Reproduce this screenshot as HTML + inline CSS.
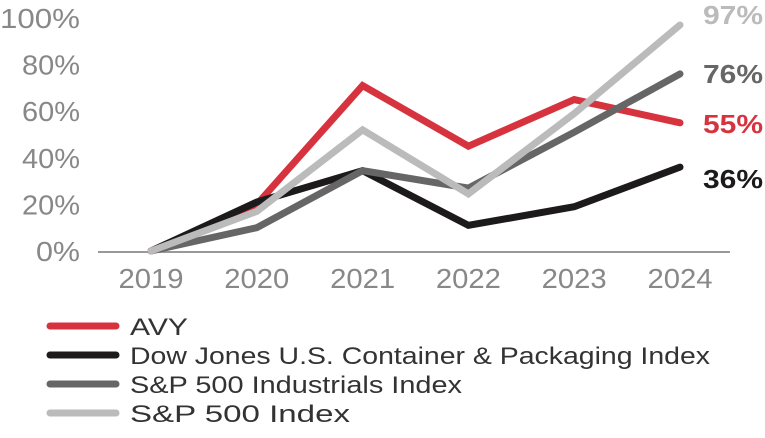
<!DOCTYPE html>
<html><head><meta charset="utf-8"><style>
body{margin:0;background:#fff;width:765px;height:433px;overflow:hidden;font-family:"Liberation Sans",sans-serif}
</style></head><body>
<svg id="chart" width="765" height="433" viewBox="0 0 765 433" xmlns="http://www.w3.org/2000/svg"></svg>
<script>
const years=["2019","2020","2021","2022","2023","2024"];
const yTicks=[0,20,40,60,80,100];
const avy=[0,20,71,45,65,55];
const dowJones=[0,21,34.5,11,19,36];
const industrials=[0,10,34.5,27,51,76];
const sp500=[0,17,52,24.5,59,97];
const seriesNames=["AVY","Dow Jones U.S. Container & Packaging Index","S&P 500 Industrials Index","S&P 500 Index"];
const legendWidths=[58,580,332,220];
const endLabels=["55%","36%","76%","97%"];

const NS="http://www.w3.org/2000/svg";
const svg=document.getElementById('chart');
const x=i=>151+i*105.8;
const y=v=>251-v*2.33;
function el(t,a){const e=document.createElementNS(NS,t);for(const k in a)e.setAttribute(k,a[k]);svg.appendChild(e);return e;}

yTicks.forEach(t=>{
  const w=t===100?80:(t===0?44:58);
  const e=el('text',{x:80,y:y(t)+10,'text-anchor':'end','font-size':28,fill:'#888',textLength:w,lengthAdjust:'spacingAndGlyphs'});
  e.textContent=t+'%';
  
  
});
const ax=el('line',{x1:98,x2:730,y1:252,y2:252,stroke:'#999','stroke-width':2});


years.forEach((yr,i)=>{
  const e=el('text',{x:x(i),y:288,'text-anchor':'middle','font-size':28,fill:'#888',textLength:65,lengthAdjust:'spacingAndGlyphs'});
  e.textContent=yr;
  
  
});

const series=[
 {d:avy,c:'#d7333f',n:'avy-line',ly:y(55)+10},
 {d:dowJones,c:'#1c1a1b',n:'dow-jones-line',ly:y(36)+21},
 {d:industrials,c:'#666',n:'industrials-line',ly:y(76)+9},
 {d:sp500,c:'#bbb',n:'sp500-line',ly:y(97)-1}
];
series.forEach((s,k)=>{
  const p=el('polyline',{points:s.d.map((v,i)=>x(i)+','+y(v)).join(' '),fill:'none',stroke:s.c,'stroke-width':7,'stroke-linejoin':'miter','stroke-linecap':'round'});
  
  
});
series.forEach((s,k)=>{
  const t=el('text',{x:703,y:s.ly,'font-size':26,'font-weight':'bold',fill:s.c,textLength:60,lengthAdjust:'spacingAndGlyphs'});
  t.textContent=endLabels[k];
  
  
});
series.forEach((s,k)=>{
  const ly=326+k*29;
  const l=el('line',{x1:50,x2:116,y1:ly,y2:ly,stroke:s.c,'stroke-width':7,'stroke-linecap':'round'});
  
  
  const t=el('text',{x:130,y:ly+9,'font-size':24,fill:'#333',textLength:legendWidths[k],lengthAdjust:'spacingAndGlyphs'});
  t.textContent=seriesNames[k];
  
  
});
</script>
</body></html>
